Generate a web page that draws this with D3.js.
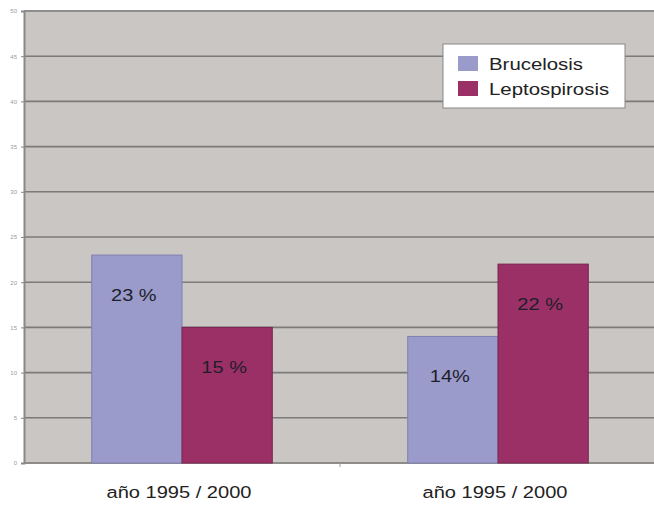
<!DOCTYPE html>
<html>
<head>
<meta charset="utf-8">
<script src="https://cdn.jsdelivr.net/npm/d3@7"></script>
<style>
  html, body { margin: 0; padding: 0; background: #ffffff; }
  svg { display: block; font-family: Arial, "Liberation Sans", sans-serif; }
</style>
</head>
<body>
<svg id="chart" width="654" height="506"></svg>
<script>
// Category and series data
const categories = ["año 1995 / 2000 (a)", "año 1995 / 2000 (b)"];
const categoryLabels = ["año 1995 / 2000", "año 1995 / 2000"];
const seriesNames = ["Brucelosis", "Leptospirosis"];
const brucelosis = [23, 14];
const leptospirosis = [15, 22];
const valueLabels = [["23 %", "15 %"], ["14%", "22 %"]];
const yTicks = [0, 5, 10, 15, 20, 25, 30, 35, 40, 45, 50];
const colors = ["#9a9bcb", "#9b3066"];

const svg = d3.select("#chart");
const plot = { left: 24, right: 656, top: 10, bottom: 463 };

// Wide text helper: draws text stretched horizontally around its anchor
function wideText(sel, sx) {
  sel.attr("transform", function () {
    const x = +this.getAttribute("x"), yy = +this.getAttribute("y");
    return `translate(${x},${yy}) scale(${sx},1) translate(${-x},${-yy})`;
  });
}

const x0 = d3.scaleBand()
  .domain(categories)
  .range([plot.left, plot.right])
  .paddingInner(0)
  .paddingOuter(0);

const x1 = d3.scaleBand()
  .domain(seriesNames)
  .range([0, x0.bandwidth()])
  .paddingOuter(0.75)
  .paddingInner(0);

const y = d3.scaleLinear().domain([0, 50]).range([plot.bottom, 11]);

// Plot background
svg.append("rect")
  .attr("x", plot.left).attr("y", plot.top)
  .attr("width", plot.right - plot.left).attr("height", plot.bottom - plot.top)
  .attr("fill", "#c9c6c3");

// Gridlines
svg.append("g")
  .selectAll("line")
  .data(yTicks)
  .join("line")
  .attr("x1", plot.left).attr("x2", plot.right)
  .attr("y1", d => y(d)).attr("y2", d => y(d))
  .attr("stroke", "#7d7b7a").attr("stroke-width", 1.6);

// Y axis
const yAxis = d3.axisLeft(y).tickValues(yTicks).tickSize(3).tickPadding(4);
const yg = svg.append("g")
  .attr("transform", `translate(${plot.left},0)`)
  .call(yAxis);
yg.select(".domain").attr("stroke", "#8a8886").attr("stroke-width", 2);
yg.selectAll(".tick line").attr("stroke", "#8a8886");
yg.selectAll(".tick text").attr("fill", "#9a9a9a").style("font-size", "6px");

// X axis (category separators and labels)
const xg = svg.append("g")
  .attr("transform", `translate(0,${plot.bottom})`);
xg.append("line")
  .attr("x1", plot.left).attr("x2", plot.right)
  .attr("y1", 0).attr("y2", 0)
  .attr("stroke", "#8a8886").attr("stroke-width", 1.5);
xg.selectAll("line.sep")
  .data(categories.slice(1))
  .join("line")
  .attr("class", "sep")
  .attr("x1", d => x0(d)).attr("x2", d => x0(d))
  .attr("y1", 0).attr("y2", 4)
  .attr("stroke", "#9a9a9a");
xg.selectAll("text")
  .data(categories)
  .join("text")
  .attr("x", d => x0(d) + x0.bandwidth() / 2 - 3)
  .attr("y", 35)
  .attr("text-anchor", "middle")
  .attr("fill", "#222")
  .style("font-size", "17px")
  .text((d, i) => categoryLabels[i])
  .call(wideText, 1.18);

// Bars
const rows = categories.map((c, i) => ({
  cat: c,
  values: [
    { name: seriesNames[0], value: brucelosis[i], label: valueLabels[i][0] },
    { name: seriesNames[1], value: leptospirosis[i], label: valueLabels[i][1] }
  ]
}));

const groups = svg.append("g")
  .selectAll("g")
  .data(rows)
  .join("g")
  .attr("transform", d => `translate(${x0(d.cat)},0)`);

groups.selectAll("rect")
  .data(d => d.values)
  .join("rect")
  .attr("x", d => x1(d.name))
  .attr("y", d => y(d.value))
  .attr("width", x1.bandwidth())
  .attr("height", d => y(0) - y(d.value))
  .attr("fill", (d, i) => colors[i])
  .attr("stroke", (d, i) => i === 0 ? "#7f80b0" : "#7a2450")
  .attr("stroke-width", 1);

groups.selectAll("text")
  .data(d => d.values)
  .join("text")
  .attr("x", d => x1(d.name) + x1.bandwidth() / 2 - 3)
  .attr("y", d => y(d.value) + 46)
  .attr("text-anchor", "middle")
  .attr("fill", "#1e1e2a")
  .style("font-size", "16px")
  .text(d => d.label)
  .call(wideText, 1.25);

// Legend
const legend = svg.append("g").attr("transform", "translate(443,44)");
legend.append("rect")
  .attr("x", 0).attr("y", 0).attr("width", 182).attr("height", 64)
  .attr("fill", "#ffffff").attr("stroke", "#8a8886").attr("stroke-width", 1);
const items = legend.selectAll("g.item")
  .data(seriesNames)
  .join("g")
  .attr("class", "item")
  .attr("transform", (d, i) => `translate(15,${12 + i * 25})`);
items.append("rect")
  .attr("width", 20).attr("height", 15)
  .attr("fill", (d, i) => colors[i]);
items.append("text")
  .attr("x", 31).attr("y", 14)
  .attr("fill", "#222")
  .style("font-size", "17px")
  .text(d => d)
  .call(wideText, 1.2);
</script>
</body>
</html>
